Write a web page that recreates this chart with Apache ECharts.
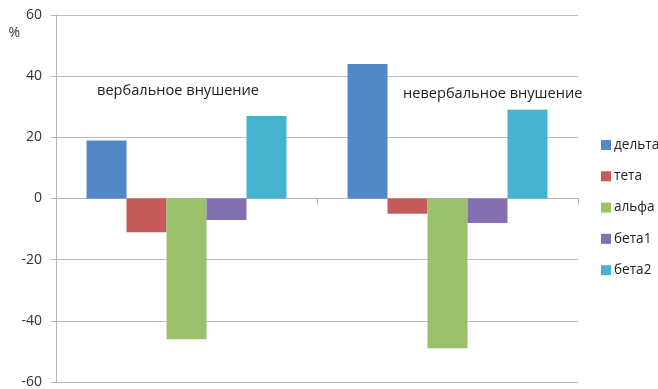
<!DOCTYPE html>
<html>
<head>
<meta charset="utf-8">
<script src="https://cdn.jsdelivr.net/npm/echarts@6/dist/echarts.min.js"></script>
<style>
  html, body { margin: 0; padding: 0; background: #fff; }
  #chart { width: 658px; height: 389px; }
</style>
</head>
<body>
<div id="chart"></div>
<script>
// Two conditions, five EEG rhythm bands, change in %
const categories = ['вербальное внушение', 'невербальное внушение'];
const seriesNames = ['дельта', 'тета', 'альфа', 'бета1', 'бета2'];
const delta = [19, 44];
const teta = [-11, -5];
const alpha = [-46, -49];
const beta1 = [-7, -8];
const beta2 = [27, 29];
const yTicks = [-60, -40, -20, 0, 20, 40, 60];
const colors = ['#5287C8', '#C55A58', '#9BC26A', '#8470B0', '#46B3CE'];

const values = [delta, teta, alpha, beta1, beta2];
const font = '"Open Sans", "DejaVu Sans", sans-serif';

const chart = echarts.init(document.getElementById('chart'), null, { renderer: 'canvas' });
chart.setOption({
  animation: false,
  color: colors,
  grid: { left: 56, right: 80, top: 15, bottom: 6, containLabel: false },
  legend: {
    orient: 'vertical',
    left: 596,
    top: 133,
    itemWidth: 10,
    itemHeight: 10,
    itemGap: 17.3,
    icon: 'rect',
    textStyle: { fontFamily: font, fontSize: 13.6, color: '#222', padding: [0, 0, 0, -2] },
    data: seriesNames
  },
  xAxis: {
    type: 'category',
    data: categories,
    axisLine: { onZero: true, lineStyle: { color: '#b5b5b5', width: 1 } },
    axisTick: { show: true, length: 6, lineStyle: { color: '#b5b5b5' } },
    axisLabel: { show: false },
    splitLine: { show: false }
  },
  yAxis: {
    type: 'value',
    min: yTicks[0],
    max: yTicks[yTicks.length - 1],
    interval: 20,
    name: '%',
    nameLocation: 'end',
    nameGap: 0,
    nameTextStyle: { fontFamily: font, fontSize: 14, color: '#333', align: 'right', padding: [0, 36, -25, 0] },
    axisLine: { show: true, lineStyle: { color: '#b5b5b5' } },
    axisTick: { show: true, length: 5, lineStyle: { color: '#b5b5b5' } },
    axisLabel: { fontFamily: font, fontSize: 14, color: '#333', margin: 14 },
    splitLine: { show: true, lineStyle: { color: '#bdbdbd', width: 1 } }
  },
  graphic: [
    { type: 'text', left: 97, top: 83, style: { text: categories[0], font: '14.6px ' + font, fill: '#222' } },
    { type: 'text', left: 403, top: 86, style: { text: categories[1], font: '14.6px ' + font, fill: '#222' } }
  ],
  series: seriesNames.map((name, i) => ({
    name,
    type: 'bar',
    data: values[i],
    barGap: '0%',
    barCategoryGap: '23.4%',
    itemStyle: { color: colors[i] }
  }))
});
</script>
</body>
</html>
